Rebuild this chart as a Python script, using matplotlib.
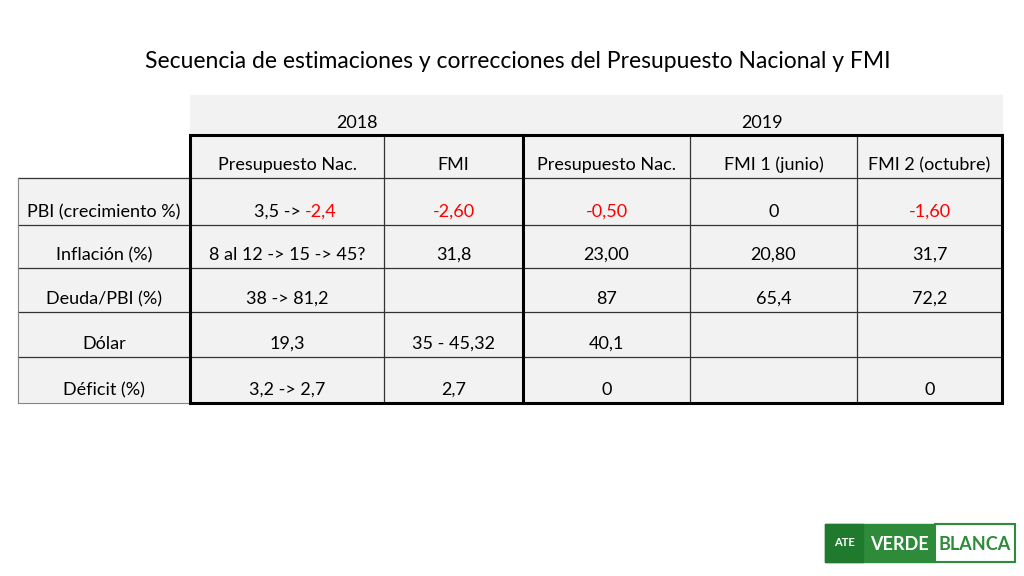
import matplotlib.pyplot as plt
from matplotlib.patches import Rectangle

plt.rcParams['font.family'] = 'Lato'

title = 'Secuencia de estimaciones y correcciones del Presupuesto Nacional y FMI'
years = ['2018', '2019']
columns = ['Presupuesto Nac.', 'FMI', 'Presupuesto Nac.', 'FMI 1 (junio)', 'FMI 2 (octubre)']
rows = ['PBI (crecimiento %)', 'Inflación (%)', 'Deuda/PBI (%)', 'Dólar', 'Déficit (%)']
cells = [
    ['3,5 -> ', '-2,60', '-0,50', '0', '-1,60'],
    ['8 al 12 -> 15 -> 45?', '31,8', '23,00', '20,80', '31,7'],
    ['38 -> 81,2', '', '87', '65,4', '72,2'],
    ['19,3', '35 - 45,32', '40,1', '', ''],
    ['3,2 -> 2,7', '2,7', '0', '', '0'],
]
red_cells = [(0, 1), (0, 2), (0, 4)]

xs = [190, 384, 523, 690, 857, 1002]
ys = [135, 178, 225, 268, 312, 357, 403]
bg = '#f2f2f2'
fs = 13

fig = plt.figure(figsize=(10.24, 5.76), dpi=100)
ax = fig.add_axes([0, 0, 1, 1])
ax.set_xlim(0, 1024)
ax.set_ylim(576, 0)
ax.axis('off')

ax.text(518, 61, title, ha='center', va='center', fontsize=16.5)

# backgrounds
ax.add_patch(Rectangle((190, 95), 812, ys[-1] - 95, color=bg, zorder=0))
ax.add_patch(Rectangle((18, ys[1]), 172, ys[-1] - ys[1], color=bg, zorder=0))

# year header
ax.text((xs[0] + xs[2]) / 2, 123, years[0], ha='center', va='center', fontsize=fs)
ax.text((xs[2] + xs[5]) / 2, 123, years[1], ha='center', va='center', fontsize=fs)

# thin grid
for y in ys[1:-1]:
    ax.plot([18, 1002], [y, y], color='#333333', lw=0.9, zorder=1)
for x in xs[1:-1]:
    ax.plot([x, x], [ys[0], ys[-1]], color='#333333', lw=0.9, zorder=1)
ax.plot([18, 18], [ys[1], ys[-1]], color='#888888', lw=0.8)
ax.plot([18, 190], [ys[-1], ys[-1]], color='#888888', lw=0.8)

# thick borders
ax.add_patch(Rectangle((190, ys[0]), 812, ys[-1] - ys[0], fill=False, ec='black', lw=2.2, zorder=3))
ax.plot([523, 523], [ys[0], ys[-1]], color='black', lw=2.2, zorder=3)

# header row
for j, c in enumerate(columns):
    ax.text((xs[j] + xs[j + 1]) / 2, ys[1] - 13, c, ha='center', va='center', fontsize=fs)

# body
for i, r in enumerate(rows):
    yb = ys[i + 2] - 13
    ax.text(104, yb, r, ha='center', va='center', fontsize=fs)
    for j, v in enumerate(cells[i]):
        cx = (xs[j] + xs[j + 1]) / 2
        color = 'red' if (i, j) in red_cells else 'black'
        if i == 0 and j == 0:
            ax.text(cx + 18, yb, v, ha='right', va='center', fontsize=fs)
            ax.text(cx + 18, yb, '-2,4', ha='left', va='center', fontsize=fs, color='red')
        else:
            ax.text(cx, yb, v, ha='center', va='center', fontsize=fs, color=color)

# logo
ax.add_patch(Rectangle((825, 524), 110, 38, color='#2e8b3a', zorder=2))
ax.add_patch(Rectangle((825, 524), 38, 38, color='#1f7a2e', zorder=2))
ax.add_patch(Rectangle((935, 524), 80, 38, fc='white', ec='#2e8b3a', lw=1.5, zorder=2))
ax.text(844, 543, 'ATE', ha='center', va='center', fontsize=8, color='white', fontweight='bold', zorder=3)
ax.text(899, 544, 'VERDE', ha='center', va='center', fontsize=13, color='white', fontweight='bold', zorder=3)
ax.text(975, 544, 'BLANCA', ha='center', va='center', fontsize=13, color='#2e8b3a', fontweight='bold', zorder=3)

fig.savefig('out.png', dpi=100)
